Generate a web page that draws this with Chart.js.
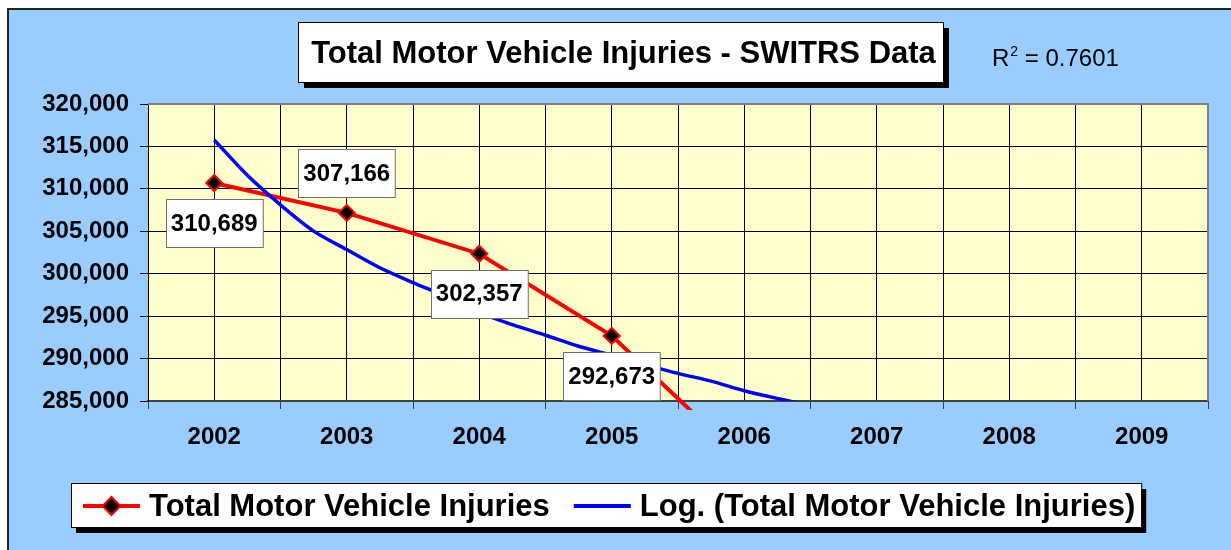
<!DOCTYPE html>
<html>
<head>
<meta charset="utf-8">
<title>Total Motor Vehicle Injuries - SWITRS Data</title>
<script src="https://cdn.jsdelivr.net/npm/chart.js@4.4.1/dist/chart.umd.min.js"></script>
<style>
  html, body { margin: 0; padding: 0; background: #ffffff; }
  #wrap { position: relative; width: 1231px; height: 550px; }
</style>
</head>
<body>
<div id="wrap"><canvas id="chart"></canvas></div>
<script>
const chartTitle = 'Total Motor Vehicle Injuries - SWITRS Data';
const rSquared = '0.7601';
const seriesName = 'Total Motor Vehicle Injuries';
const trendName = 'Log. (Total Motor Vehicle Injuries)';

// yearly totals (2006 falls below the axis minimum)
const years = [2002, 2003, 2004, 2005, 2006];
const injuries = [310689, 307166, 302357, 292673, 277900];
const labelSide = ['below', 'above', 'below', 'below', 'below'];

// log trend line, quarter-year steps
const trendYears = [2002, 2002.25, 2002.5, 2002.75, 2003, 2003.25, 2003.5, 2003.75,
  2004, 2004.25, 2004.5, 2004.75, 2005, 2005.25, 2005.5, 2005.75, 2006, 2006.25, 2006.5, 2006.75];
const trendValues = [315760, 311600, 308110, 305020, 302850, 300700, 298950, 297300,
  295400, 294000, 292750, 291450, 290400, 289300, 288250, 287340, 286200, 285300, 284500, 283700];

const yearTicks = [2002, 2003, 2004, 2005, 2006, 2007, 2008, 2009];
const yMin = 285000;
const yMax = 320000;
const yStep = 5000;

const FONT = '"Liberation Sans", Arial, sans-serif';

function fmt(n) {
  return Number(n).toLocaleString('en-US');
}

// background, plot fill, title, R², data labels and legend box
const decor = {
  id: 'decor',
  beforeDraw(chart) {
    const ctx = chart.ctx;
    const a = chart.chartArea;
    ctx.save();
    ctx.fillStyle = '#ffffff';
    ctx.fillRect(0, 0, chart.width, chart.height);
    ctx.fillStyle = '#99ccff';
    ctx.fillRect(8, 9, chart.width, chart.height);
    ctx.strokeStyle = '#222222';
    ctx.lineWidth = 2;
    ctx.beginPath();
    ctx.moveTo(8, chart.height);
    ctx.lineTo(8, 9);
    ctx.lineTo(chart.width, 9);
    ctx.stroke();
    ctx.fillStyle = '#ffffcc';
    ctx.fillRect(a.left, a.top, a.right - a.left, a.bottom - a.top);
    ctx.restore();
  },
  afterDatasetsDraw(chart) {
    const ctx = chart.ctx;
    const meta = chart.getDatasetMeta(0);
    ctx.save();
    ctx.font = 'bold 24px ' + FONT;
    ctx.textAlign = 'center';
    ctx.textBaseline = 'middle';
    meta.data.forEach(function(pt, i) {
      const v = injuries[i];
      if (v < yMin || v > yMax) return;
      const text = fmt(v);
      const w = ctx.measureText(text).width + 10;
      const h = 48;
      const cy = labelSide[i] === 'above' ? pt.y - 40 : pt.y + 40;
      const bx = Math.round(pt.x - w / 2) + 0.5;
      const by = Math.round(cy - h / 2) + 0.5;
      ctx.fillStyle = '#ffffff';
      ctx.fillRect(bx, by, w, h);
      ctx.strokeStyle = '#707070';
      ctx.lineWidth = 1;
      ctx.strokeRect(bx, by, w, h);
      ctx.fillStyle = '#000000';
      ctx.fillText(text, pt.x, cy + 1);
    });
    ctx.restore();
  },
  afterDraw(chart) {
    const ctx = chart.ctx;
    const a = chart.chartArea;
    ctx.save();

    // grey frame on top and right of plot
    ctx.strokeStyle = '#808080';
    ctx.lineWidth = 2;
    ctx.beginPath();
    ctx.moveTo(a.left, a.top);
    ctx.lineTo(a.right, a.top);
    ctx.lineTo(a.right, a.bottom);
    ctx.stroke();

    // title box
    const tb = { x: 298, y: 22, w: 645, h: 60 };
    ctx.fillStyle = '#000000';
    ctx.fillRect(tb.x + 6, tb.y + 6, tb.w, tb.h);
    ctx.fillStyle = '#ffffff';
    ctx.fillRect(tb.x, tb.y, tb.w, tb.h);
    ctx.strokeStyle = '#000000';
    ctx.lineWidth = 1;
    ctx.strokeRect(tb.x + 0.5, tb.y + 0.5, tb.w, tb.h);
    ctx.fillStyle = '#000000';
    ctx.font = 'bold 31px ' + FONT;
    ctx.textAlign = 'center';
    ctx.textBaseline = 'alphabetic';
    ctx.fillText(chartTitle, tb.x + tb.w / 2 + 3, 63);

    // R squared
    ctx.textAlign = 'left';
    ctx.font = '24px ' + FONT;
    let rx = 992;
    ctx.fillText('R', rx, 66);
    rx += ctx.measureText('R').width;
    ctx.font = '14px ' + FONT;
    ctx.fillText('2', rx + 1, 56);
    rx += ctx.measureText('2').width + 1;
    ctx.font = '24px ' + FONT;
    ctx.fillText(' = ' + rSquared, rx, 66);

    // legend
    const ds = chart.data.datasets;
    ctx.font = 'bold 31px ' + FONT;
    const t1 = ctx.measureText(ds[0].label).width;
    const t2 = ctx.measureText(ds[1].label).width;
    const lb = { x: 71, y: 483, h: 44 };
    const sym = 57;
    lb.w = 12 + sym + 9 + t1 + 24 + sym + 9 + t2 + 6;
    ctx.fillStyle = '#000000';
    ctx.fillRect(lb.x + 5, lb.y + 6, lb.w, lb.h);
    ctx.fillStyle = '#ffffff';
    ctx.fillRect(lb.x, lb.y, lb.w, lb.h);
    ctx.strokeStyle = '#000000';
    ctx.lineWidth = 1;
    ctx.strokeRect(lb.x + 0.5, lb.y + 0.5, lb.w, lb.h);

    const cy = 506;
    let lx = lb.x + 12;
    ctx.strokeStyle = ds[0].borderColor;
    ctx.lineWidth = 4;
    ctx.beginPath();
    ctx.moveTo(lx, cy);
    ctx.lineTo(lx + sym, cy);
    ctx.stroke();
    ctx.beginPath();
    const dx = lx + sym / 2;
    ctx.moveTo(dx, cy - 9);
    ctx.lineTo(dx + 9, cy);
    ctx.lineTo(dx, cy + 9);
    ctx.lineTo(dx - 9, cy);
    ctx.closePath();
    ctx.fillStyle = ds[0].pointBackgroundColor;
    ctx.fill();
    ctx.lineWidth = 2;
    ctx.strokeStyle = ds[0].pointBorderColor;
    ctx.stroke();
    lx += sym + 9;
    ctx.fillStyle = '#000000';
    ctx.textBaseline = 'alphabetic';
    ctx.fillText(ds[0].label, lx, 516);
    lx += t1 + 24;
    ctx.strokeStyle = ds[1].borderColor;
    ctx.lineWidth = 4;
    ctx.beginPath();
    ctx.moveTo(lx, cy);
    ctx.lineTo(lx + sym, cy);
    ctx.stroke();
    lx += sym + 9;
    ctx.fillText(ds[1].label, lx, 516);

    ctx.restore();
  }
};

const ctx = document.getElementById('chart').getContext('2d');
new Chart(ctx, {
  type: 'line',
  data: {
    datasets: [
      {
        label: seriesName,
        data: years.map((y, i) => ({ x: y, y: injuries[i] })),
        borderColor: '#ff0000',
        borderWidth: 4,
        pointStyle: 'rectRot',
        pointRadius: 8,
        pointBackgroundColor: '#000000',
        pointBorderColor: '#ff0000',
        pointBorderWidth: 2,
        tension: 0,
        order: 1,
        clip: { left: 5, top: 5, right: 5, bottom: 9 }
      },
      {
        label: trendName,
        data: trendYears.map((y, i) => ({ x: y, y: trendValues[i] })),
        borderColor: '#0000ff',
        borderWidth: 3.5,
        pointRadius: 0,
        tension: 0.3,
        order: 0
      }
    ]
  },
  options: {
    responsive: true,
    maintainAspectRatio: false,
    animation: false,
    events: [],
    layout: { padding: { top: 104, left: 0, right: 23, bottom: 99 } },
    plugins: {
      legend: { display: false },
      title: { display: false },
      tooltip: { enabled: false }
    },
    scales: {
      x: {
        type: 'linear',
        min: yearTicks[0] - 0.5,
        max: yearTicks[yearTicks.length - 1] + 0.5,
        afterFit: function(scale) { scale.height = 50; },
        afterBuildTicks: function(scale) {
          const t = [];
          for (let v = scale.min; v <= scale.max + 0.001; v += 0.5) t.push({ value: v });
          scale.ticks = t;
        },
        ticks: {
          autoSkip: false,
          maxRotation: 0,
          padding: 14,
          color: '#000000',
          font: { family: FONT, size: 24, weight: 'bold' },
          callback: function(v) { return yearTicks.includes(v) ? String(v) : ''; }
        },
        grid: {
          color: '#000000',
          lineWidth: 1,
          tickLength: 8,
          tickColor: function(c) { return c.tick && yearTicks.includes(c.tick.value) ? 'rgba(0,0,0,0)' : '#404040'; }
        },
        border: { color: '#404040', width: 2 }
      },
      y: {
        min: yMin,
        max: yMax,
        afterFit: function(scale) { scale.width = 148; },
        ticks: {
          stepSize: yStep,
          padding: 11,
          color: '#000000',
          font: { family: FONT, size: 24, weight: 'bold' },
          callback: function(v) { return fmt(v); }
        },
        grid: { color: '#000000', lineWidth: 1, tickLength: 8, tickColor: '#000000' },
        border: { color: '#000000', width: 1 }
      }
    }
  },
  plugins: [decor]
});
</script>
</body>
</html>
